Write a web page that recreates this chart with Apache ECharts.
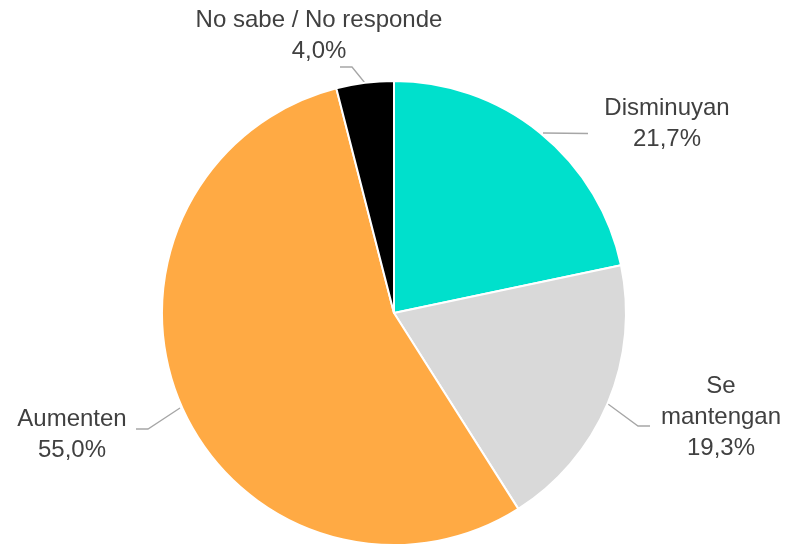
<!DOCTYPE html>
<html>
<head>
<meta charset="utf-8">
<script src="https://cdn.jsdelivr.net/npm/echarts@6/dist/echarts.min.js"></script>
<style>html,body{margin:0;padding:0;background:#fff}#c{width:792px;height:545px}</style>
</head>
<body>
<div id="c"></div>
<script>
var categories = ['Disminuyan', 'Se mantengan', 'Aumenten', 'No sabe / No responde'];
var values = [21.7, 19.3, 55.0, 4.0];
var colors = ['#00E0CC', '#D9D9D9', '#FFAA44', '#000000'];

var labelPos = [
  {x: 667, y: 124, pts: [[543, 133], [588, 133.5], [588, 133.5]]},
  {x: 721, y: 417, pts: [[608, 404], [638, 426], [650, 426]]},
  {x: 72, y: 435, pts: [[180, 408], [148, 429], [136, 429]]},
  {x: 319, y: 36, pts: [[365, 83], [352, 67], [340, 67]]}
];

var chart = echarts.init(document.getElementById('c'));
chart.setOption({
  animation: false,
  series: [{
    type: 'pie',
    center: [394, 313],
    radius: 232,
    startAngle: 90,
    clockwise: true,
    itemStyle: {borderColor: '#fff', borderWidth: 2},
    label: {
      show: true,
      fontFamily: 'Liberation Sans, Arial, sans-serif',
      fontSize: 24,
      lineHeight: 31,
      color: '#404040',
      align: 'center',
      formatter: function (p) {
        var n = p.name === 'Se mantengan' ? 'Se\nmantengan' : p.name;
        return n + '\n' + p.value.toFixed(1).replace('.', ',') + '%';
      }
    },
    labelLine: {show: true, lineStyle: {color: '#A6A6A6', width: 1.3}},
    labelLayout: function (p) {
      var l = labelPos[p.dataIndex];
      return {x: l.x, y: l.y, align: 'center', verticalAlign: 'middle', labelLinePoints: l.pts};
    },
    data: categories.map(function (c, i) {
      return {name: c, value: values[i], itemStyle: {color: colors[i]}};
    })
  }]
});
</script>
</body>
</html>
